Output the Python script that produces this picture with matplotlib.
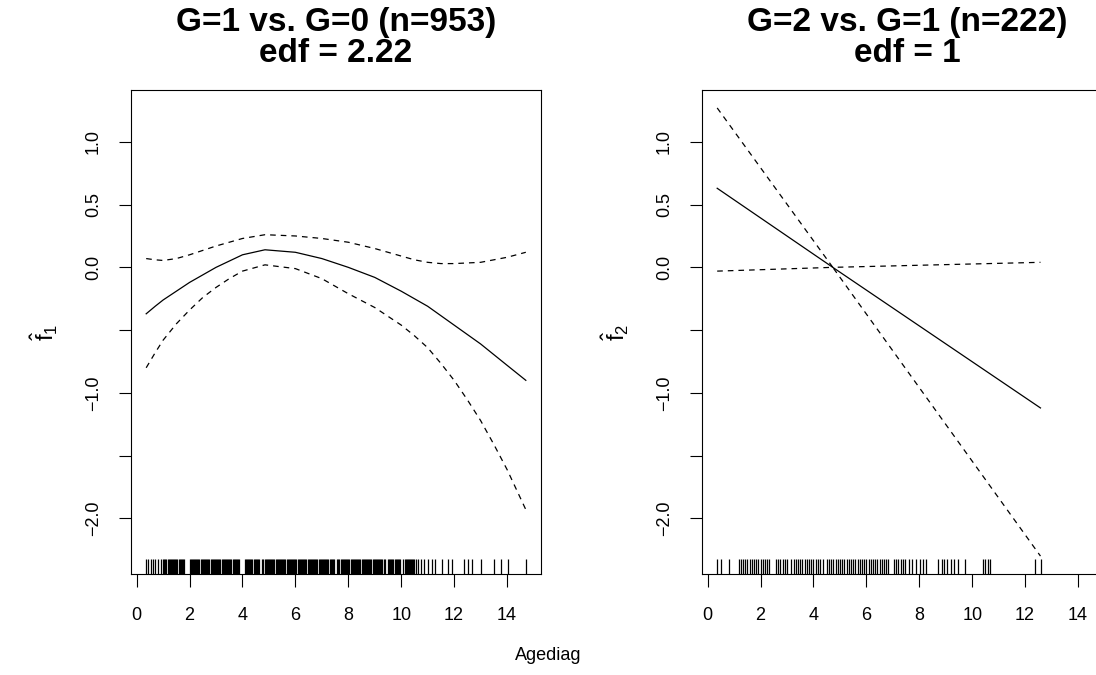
import numpy as np
import matplotlib
matplotlib.use('Agg')
import matplotlib.pyplot as plt

plt.rcParams['font.family'] = ['Liberation Sans', 'DejaVu Sans']
plt.rcParams['mathtext.fontset'] = 'custom'
plt.rcParams['mathtext.rm'] = 'Liberation Sans'
plt.rcParams['mathtext.it'] = 'Liberation Sans'

# smooth term 1: G=1 vs. G=0
left_x = [0.36, 0.7, 1.0, 1.5, 2.0, 2.5, 3.0, 3.5, 4.0, 4.85, 6.0, 7.0, 8.0, 9.0, 10.0, 10.5, 11.0, 11.5,
          12.0, 12.5, 13.0, 13.5, 14.0, 14.71]
left_fit = [-0.37, -0.31, -0.26, -0.19, -0.12, -0.06, 0.00, 0.05, 0.10, 0.14, 0.12, 0.07, 0.00, -0.08, -0.19,
            -0.25, -0.31, -0.385, -0.46, -0.535, -0.61, -0.695, -0.78, -0.90]
left_upper = [0.07, 0.06, 0.055, 0.07, 0.10, 0.135, 0.17, 0.20, 0.23, 0.26, 0.25, 0.23, 0.20, 0.15, 0.09,
              0.06, 0.04, 0.03, 0.03, 0.035, 0.04, 0.06, 0.08, 0.12]
left_lower = [-0.80, -0.68, -0.58, -0.45, -0.34, -0.24, -0.16, -0.09, -0.03, 0.02, -0.01, -0.09, -0.21, -0.32,
              -0.46, -0.545, -0.64, -0.765, -0.90, -1.055, -1.22, -1.41, -1.61, -1.93]

# smooth term 2: G=2 vs. G=1 (linear, edf = 1)
right_x = [0.36, 4.73, 12.58]
right_fit = [0.63, 0.0, -1.12]
right_upper = [1.27, 0.0, 0.04]
right_lower = [-0.03, 0.0, -2.30]

# rug positions, age at diagnosis in months
left_rug_months = [4.3, 5.3, 6.4, 7.6, 8.4, 9.7, 10.9,
                   12, 12.5, 13, 13.5, 14, 14.5, 15, 15.5, 16, 16.5, 17, 17.5, 18, 18.5, 19, 19.5, 20, 20.5, 21, 21.5,
                   24, 24.5, 25, 25.5, 26, 26.5, 27, 27.5, 28, 28.5, 29, 29.5, 30, 30.5, 31, 31.5, 32, 32.5,
                   33, 33.5, 34, 34.5, 35, 35.5, 36, 36.5, 37, 37.5, 38, 38.5, 39, 39.5, 40, 40.5, 41, 41.5,
                   42, 42.5, 43, 43.5, 44, 44.5, 45, 45.5, 46, 46.5,
                   49, 49.5, 50, 50.5, 51, 51.5, 52, 52.5, 53, 53.5, 54, 54.5, 55, 55.5,
                   57, 57.5, 58, 58.5, 59, 59.5, 60, 60.5, 61, 61.5, 62, 62.5, 63, 63.5, 64, 64.5, 65, 65.5,
                   66, 66.5, 67, 67.5, 68, 68.5, 69, 69.5, 70, 70.5, 71, 71.5, 72, 72.5, 73, 73.5, 74, 74.5,
                   75, 75.5, 76, 76.5, 77, 77.5, 78, 78.5, 79, 79.5, 80, 80.5, 81, 81.5, 82, 82.5, 83, 83.5,
                   84, 84.5, 85, 85.5, 86, 86.5, 87, 87.5, 88, 88.5, 89, 89.5,
                   91, 91.5, 92, 92.5, 93, 93.5, 94, 94.5, 95, 95.5, 96, 96.5, 97, 97.5, 98, 98.5, 99, 99.5,
                   100, 100.5, 101, 101.5, 102, 102.5, 103, 103.5, 104, 104.5, 105, 105.5, 106, 106.5,
                   107, 107.5, 108, 108.5, 109, 109.5, 110, 110.5, 111, 111.5, 112, 112.5,
                   114, 114.5, 115, 115.5, 116, 116.5, 117, 117.5, 118, 118.5, 119, 119.5,
                   121, 121.5, 122, 122.5, 123, 123.5, 124, 124.5, 125, 125.5, 126, 126.5,
                   127.5, 129, 130.2, 132, 133.8, 135.3,
                   138.6, 141.4, 143.2, 148.7, 150.1, 152.0, 156.2, 162.2, 165.2, 168.6, 176.5]
right_rug_months = [4.1, 5.9, 9.8,
                    14, 15, 16, 17, 18, 19, 20, 21, 22, 23, 24, 25, 26, 27, 28,
                    31, 32, 33, 34, 35, 36,
                    38, 39, 40, 41, 42, 43, 44, 45, 46, 47, 48, 49, 50, 51, 52.5,
                    54, 55, 56, 57, 58, 59, 60, 61, 62, 63, 64, 65, 66, 67, 68, 69, 70, 71, 72, 73, 74, 75, 76,
                    77, 78, 79, 80, 81, 82, 84.5, 85.5, 86.5, 87.5, 88.5, 89.5,
                    91.4, 92.9, 94.7, 96.2, 97.8, 99.2, 104.5, 106.1, 107.3, 108.6, 110.2, 111.6, 113.6, 116.6,
                    124.7, 125.8, 127.2, 128.0, 148.7, 151.0]

titles = ['G=1 vs. G=0 (n=953)', 'G=2 vs. G=1 (n=222)']
edf_labels = ['edf = 2.22', 'edf = 1']
ylabels = [r'$\hat{\mathrm{f}}_{1}$', r'$\hat{\mathrm{f}}_{2}$']
xticks = [0, 2, 4, 6, 8, 10, 12, 14]
yticks = [-2.0, -1.5, -1.0, -0.5, 0.0, 0.5, 1.0]
ytick_labels = ['\u22122.0', '', '\u22121.0', '', '0.0', '0.5', '1.0']

W, H = 1096, 675
fig = plt.figure(figsize=(W / 100, H / 100), dpi=100)
box_top, box_bot = 90, 574
boxes = [(131, 541), (702, 1112)]

# R style limits: data range plus 4 percent each side
xr = (min(left_x), max(left_x))
xpad = 0.04 * (xr[1] - xr[0])
all_y = left_upper + left_lower + left_fit + right_upper + right_lower + right_fit
yr = (min(all_y), max(all_y))
ypad = 0.04 * (yr[1] - yr[0])

panels = [(left_x, left_fit, left_upper, left_lower, left_rug_months),
          (right_x, right_fit, right_upper, right_lower, right_rug_months)]

for i, (x, fit, up, lo, rug) in enumerate(panels):
    x0, x1 = boxes[i]
    ax = fig.add_axes([x0 / W, 1 - box_bot / H, (x1 - x0) / W, (box_bot - box_top) / H])
    ax.plot(x, fit, color='black', lw=0.9)
    ax.plot(x, up, color='black', lw=0.9, dashes=(4.5, 4))
    ax.plot(x, lo, color='black', lw=0.9, dashes=(4.5, 4))
    rug_years = np.array(rug) / 12.0
    ax.vlines(rug_years, 0, 0.03, transform=ax.get_xaxis_transform(), color='black', lw=0.9)
    ax.set_xlim(xr[0] - xpad, xr[1] + xpad)
    ax.set_ylim(yr[0] - ypad, yr[1] + ypad)
    ax.set_xticks(xticks)
    ax.set_xticklabels([str(t) for t in xticks])
    ax.set_yticks(yticks)
    ax.set_yticklabels(ytick_labels, rotation=90, va='center')
    ax.tick_params(axis='both', direction='out', length=9, width=0.8, labelsize=13)
    ax.tick_params(axis='x', pad=15)
    ax.tick_params(axis='y', pad=12)
    for s in ax.spines.values():
        s.set_linewidth(0.8)
    cx = (x0 + x1) / 2
    fig.text(cx / W, 1 - 23 / H, titles[i], ha='center', va='center', fontsize=24, fontweight='bold')
    fig.text(cx / W, 1 - 54 / H, edf_labels[i], ha='center', va='center', fontsize=24, fontweight='bold')
    ax.set_ylabel(ylabels[i], fontsize=17, labelpad=18)

fig.text(0.5, 1 - 656 / H, 'Agediag', ha='center', va='center', fontsize=13)

fig.savefig('out.png', dpi=100)
